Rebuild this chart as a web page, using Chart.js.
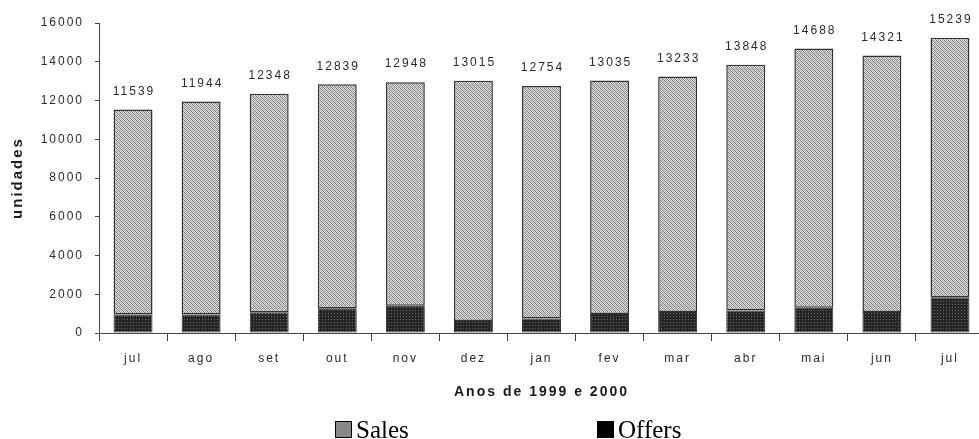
<!DOCTYPE html>
<html>
<head>
<meta charset="utf-8">
<script src="https://cdn.jsdelivr.net/npm/chart.js@4/dist/chart.umd.min.js"></script>
<style>
  html, body { margin: 0; padding: 0; background: #fff; overflow: hidden; }
  #wrap { width: 990px; height: 439px; }
</style>
</head>
<body>
<div id="wrap"><canvas id="c" width="990" height="439"></canvas></div>
<script>
// Monthly units, July 1999 to July 2000
const months = ['jul', 'ago', 'set', 'out', 'nov', 'dez', 'jan', 'fev', 'mar', 'abr', 'mai', 'jun', 'jul'];
const offers = [950, 950, 1070, 1280, 1410, 620, 750, 980, 1080, 1160, 1300, 1080, 1840];
const sales = [10589, 10994, 11278, 11559, 11538, 12395, 12004, 12055, 12153, 12688, 13388, 13241, 13399];
const yTickValues = [0, 2000, 4000, 6000, 8000, 10000, 12000, 14000, 16000];
const seriesNames = ['Sales', 'Offers'];
const yTitle = 'unidades';
const xTitle = 'Anos de 1999 e 2000';

const canvas = document.getElementById('c');
const ctx = canvas.getContext('2d');

// Fill patterns: grey diagonal hatch for sales, dark dotted fill for offers
function makeHatch() {
  const t = document.createElement('canvas');
  t.width = 4; t.height = 4;
  const g = t.getContext('2d');
  g.fillStyle = '#dcdcdc';
  g.fillRect(0, 0, 4, 4);
  g.fillStyle = '#7c7c7c';
  for (let i = 0; i < 4; i++) g.fillRect(i, i, 1, 1);
  g.fillStyle = '#a6a6a6';
  for (let i = 0; i < 4; i++) g.fillRect((i + 2) % 4, i, 1, 1);
  return ctx.createPattern(t, 'repeat');
}
function makeDots() {
  const t = document.createElement('canvas');
  t.width = 3; t.height = 3;
  const g = t.getContext('2d');
  g.fillStyle = '#262626';
  g.fillRect(0, 0, 3, 3);
  g.fillStyle = '#6a6a6a';
  g.fillRect(1, 1, 1, 1);
  return ctx.createPattern(t, 'repeat');
}

const FONT = "'Liberation Sans', Arial, sans-serif";
const SPACING = '2px';

// Spread the sans-serif lettering a little, as in the printed original
const spacingPlugin = {
  id: 'spacing',
  beforeUpdate(chart) { chart.ctx.letterSpacing = SPACING; },
  beforeDraw(chart) { chart.ctx.letterSpacing = SPACING; }
};

// Stack totals written above each column
const totalsPlugin = {
  id: 'totals',
  afterDatasetsDraw(chart) {
    const c = chart.ctx;
    const top = chart.getDatasetMeta(1);
    c.save();
    c.letterSpacing = SPACING;
    c.font = '12px ' + FONT;
    c.fillStyle = '#2a2a2a';
    c.textAlign = 'center';
    c.textBaseline = 'middle';
    top.data.forEach((bar, i) => {
      const total = offers[i] + sales[i];
      c.fillText(String(total), bar.x + 1, bar.y - 18);
    });
    c.restore();
  }
};

// Legend row under the axis title
const legendPlugin = {
  id: 'legendRow',
  afterDraw(chart) {
    const c = chart.ctx;
    c.save();
    c.letterSpacing = '0px';
    c.font = "25px 'Liberation Serif', 'Times New Roman', serif";
    c.textBaseline = 'alphabetic';
    c.textAlign = 'left';
    const items = [
      { name: seriesNames[0], fill: '#888888', x: 335 },
      { name: seriesNames[1], fill: '#000000', x: 597 }
    ];
    items.forEach(it => {
      c.fillStyle = it.fill;
      c.fillRect(it.x, 421, 17, 17);
      c.strokeStyle = '#000';
      c.lineWidth = 1;
      c.strokeRect(it.x + 0.5, 421.5, 16, 16);
      c.fillStyle = '#000';
      c.fillText(it.name, it.x + 21, 438);
    });
    c.restore();
  }
};

new Chart(ctx, {
  type: 'bar',
  data: {
    labels: months,
    datasets: [
      {
        label: seriesNames[1],
        data: offers,
        backgroundColor: makeDots(),
        borderColor: '#2a2a2a',
        borderWidth: 1,
        borderSkipped: false
      },
      {
        label: seriesNames[0],
        data: sales,
        backgroundColor: makeHatch(),
        borderColor: '#333333',
        borderWidth: 1.5,
        borderSkipped: false
      }
    ]
  },
  options: {
    responsive: false,
    animation: false,
    events: [],
    layout: { padding: { left: 0, top: 23, right: 6, bottom: 34 } },
    datasets: { bar: { categoryPercentage: 1, barPercentage: 0.572 } },
    plugins: {
      legend: { display: false },
      tooltip: { enabled: false }
    },
    scales: {
      x: {
        stacked: true,
        afterFit(s) { s.height = 72; },
        grid: {
          display: true,
          offset: true,
          drawOnChartArea: false,
          drawTicks: true,
          tickLength: 8,
          color: '#444'
        },
        border: { display: true, color: '#444', width: 1 },
        ticks: {
          color: '#2a2a2a',
          font: { family: FONT, size: 12 },
          padding: 10,
          maxRotation: 0,
          autoSkip: false
        },
        title: {
          display: true,
          text: xTitle,
          color: '#1a1a1a',
          font: { family: FONT, size: 14, weight: 'bold' },
          padding: { top: 0, bottom: 4 }
        }
      },
      y: {
        stacked: true,
        min: 0,
        max: 16000,
        afterFit(s) { s.width = 99; },
        afterBuildTicks(s) { s.ticks = yTickValues.map(v => ({ value: v })); },
        grid: {
          display: true,
          drawOnChartArea: false,
          drawTicks: true,
          tickLength: 4,
          color: '#444'
        },
        border: { display: true, color: '#444', width: 1 },
        ticks: {
          color: '#2a2a2a',
          font: { family: FONT, size: 12 },
          padding: 11,
          callback: v => String(v)
        },
        title: {
          display: true,
          text: yTitle,
          color: '#1a1a1a',
          font: { family: FONT, size: 15, weight: 'bold' },
          padding: { top: 9, bottom: 0 }
        }
      }
    }
  },
  plugins: [spacingPlugin, totalsPlugin, legendPlugin]
});
</script>
</body>
</html>
